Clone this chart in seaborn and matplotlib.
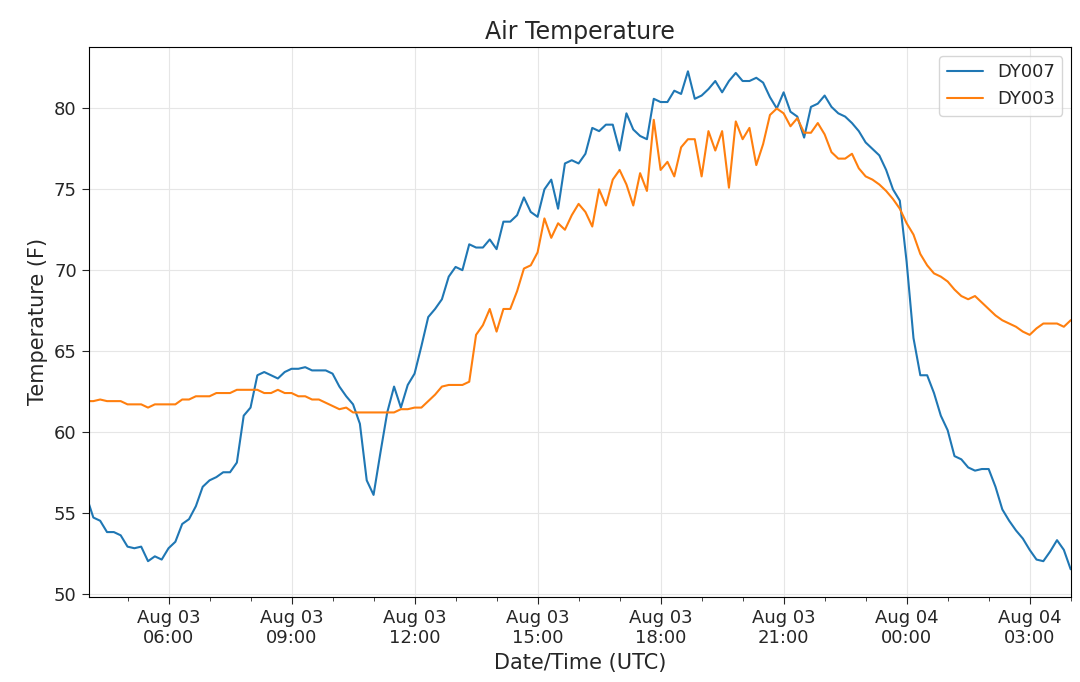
import numpy as np
import pandas as pd
import matplotlib
matplotlib.use("Agg")
import matplotlib.pyplot as plt
import matplotlib.dates as mdates
import seaborn as sns

dy007 = [56.0, 54.7, 54.5, 53.8, 53.8, 53.6, 52.9, 52.8, 52.9, 52.0, 52.3, 52.1,
         52.8, 53.2, 54.3, 54.6, 55.4, 56.6, 57.0, 57.2, 57.5, 57.5, 58.1, 61.0,
         61.5, 63.5, 63.7, 63.5, 63.3, 63.7, 63.9, 63.9, 64.0, 63.8, 63.8, 63.8,
         63.6, 62.8, 62.2, 61.7, 60.5, 57.0, 56.1, 58.7, 61.2, 62.8, 61.5, 62.9,
         63.6, 65.3, 67.1, 67.6, 68.2, 69.6, 70.2, 70.0, 71.6, 71.4, 71.4, 71.9,
         71.3, 73.0, 73.0, 73.4, 74.5, 73.6, 73.3, 75.0, 75.6, 73.8, 76.6, 76.8,
         76.6, 77.2, 78.8, 78.6, 79.0, 79.0, 77.4, 79.7, 78.7, 78.3, 78.1, 80.6,
         80.4, 80.4, 81.1, 80.9, 82.3, 80.6, 80.8, 81.2, 81.7, 81.0, 81.7, 82.2,
         81.7, 81.7, 81.9, 81.6, 80.7, 80.0, 81.0, 79.8, 79.5, 78.2, 80.1, 80.3,
         80.8, 80.1, 79.7, 79.5, 79.1, 78.6, 77.9, 77.5, 77.1, 76.2, 75.0, 74.3,
         70.5, 65.8, 63.5, 63.5, 62.4, 61.0, 60.1, 58.5, 58.3, 57.8, 57.6, 57.7,
         57.7, 56.6, 55.2, 54.5, 53.9, 53.4, 52.7, 52.1, 52.0, 52.6, 53.3, 52.7, 51.5]

dy003 = [61.9, 61.9, 62.0, 61.9, 61.9, 61.9, 61.7, 61.7, 61.7, 61.5, 61.7, 61.7,
         61.7, 61.7, 62.0, 62.0, 62.2, 62.2, 62.2, 62.4, 62.4, 62.4, 62.6, 62.6,
         62.6, 62.6, 62.4, 62.4, 62.6, 62.4, 62.4, 62.2, 62.2, 62.0, 62.0, 61.8,
         61.6, 61.4, 61.5, 61.2, 61.2, 61.2, 61.2, 61.2, 61.2, 61.2, 61.4, 61.4,
         61.5, 61.5, 61.9, 62.3, 62.8, 62.9, 62.9, 62.9, 63.1, 66.0, 66.6, 67.6,
         66.2, 67.6, 67.6, 68.7, 70.1, 70.3, 71.1, 73.2, 72.0, 72.9, 72.5, 73.4,
         74.1, 73.6, 72.7, 75.0, 74.0, 75.6, 76.2, 75.3, 74.0, 76.0, 74.9, 79.3,
         76.2, 76.7, 75.8, 77.6, 78.1, 78.1, 75.8, 78.6, 77.4, 78.6, 75.1, 79.2,
         78.1, 78.8, 76.5, 77.8, 79.6, 80.0, 79.7, 78.9, 79.4, 78.5, 78.5, 79.1,
         78.4, 77.3, 76.9, 76.9, 77.2, 76.3, 75.8, 75.6, 75.3, 74.9, 74.4, 73.8,
         72.9, 72.2, 71.0, 70.3, 69.8, 69.6, 69.3, 68.8, 68.4, 68.2, 68.4, 68.0,
         67.6, 67.2, 66.9, 66.7, 66.5, 66.2, 66.0, 66.4, 66.7, 66.7, 66.7, 66.5,
         66.9, 67.1]

start = "2019-08-03 04:00"
t7 = pd.date_range(start, periods=len(dy007), freq="10min")
t3 = pd.date_range(start, periods=len(dy003), freq="10min")
df = pd.concat([
    pd.DataFrame({"time": t7, "temp": dy007, "station": "DY007"}),
    pd.DataFrame({"time": t3, "temp": dy003, "station": "DY003"}),
])

sns.set_style("white")
plt.rcParams["font.family"] = ["DejaVu Sans"]
fig, ax = plt.subplots(figsize=(10.8, 6.82), dpi=100)
sns.lineplot(data=df, x="time", y="temp", hue="station",
             palette=["#1f77b4", "#ff7f0e"], linewidth=1.5, ax=ax)
ax.set_xlim(pd.Timestamp("2019-08-03 04:03"), pd.Timestamp("2019-08-04 04:01"))
ax.set_ylim(49.8, 83.8)
ax.xaxis.set_major_locator(mdates.HourLocator(byhour=[0, 3, 6, 9, 12, 15, 18, 21]))
ax.xaxis.set_minor_locator(mdates.HourLocator())
ax.xaxis.set_major_formatter(mdates.DateFormatter("%b %d\n%H:%M"))
ax.tick_params(axis="both", which="major", labelsize=13, length=5, bottom=True, left=True)
ax.tick_params(axis="x", which="minor", length=3, bottom=True)
ax.grid(True, color="#e6e6e6", linewidth=0.8)
for s in ax.spines.values():
    s.set_color("black")
ax.set_title("Air Temperature", fontsize=17)
ax.set_xlabel("Date/Time (UTC)", fontsize=15)
ax.set_ylabel("Temperature (F)", fontsize=15)
ax.legend(title=None, fontsize=13, loc="upper right")
plt.subplots_adjust(left=0.082, right=0.992, top=0.931, bottom=0.125)
fig.savefig("out.png", dpi=100)
